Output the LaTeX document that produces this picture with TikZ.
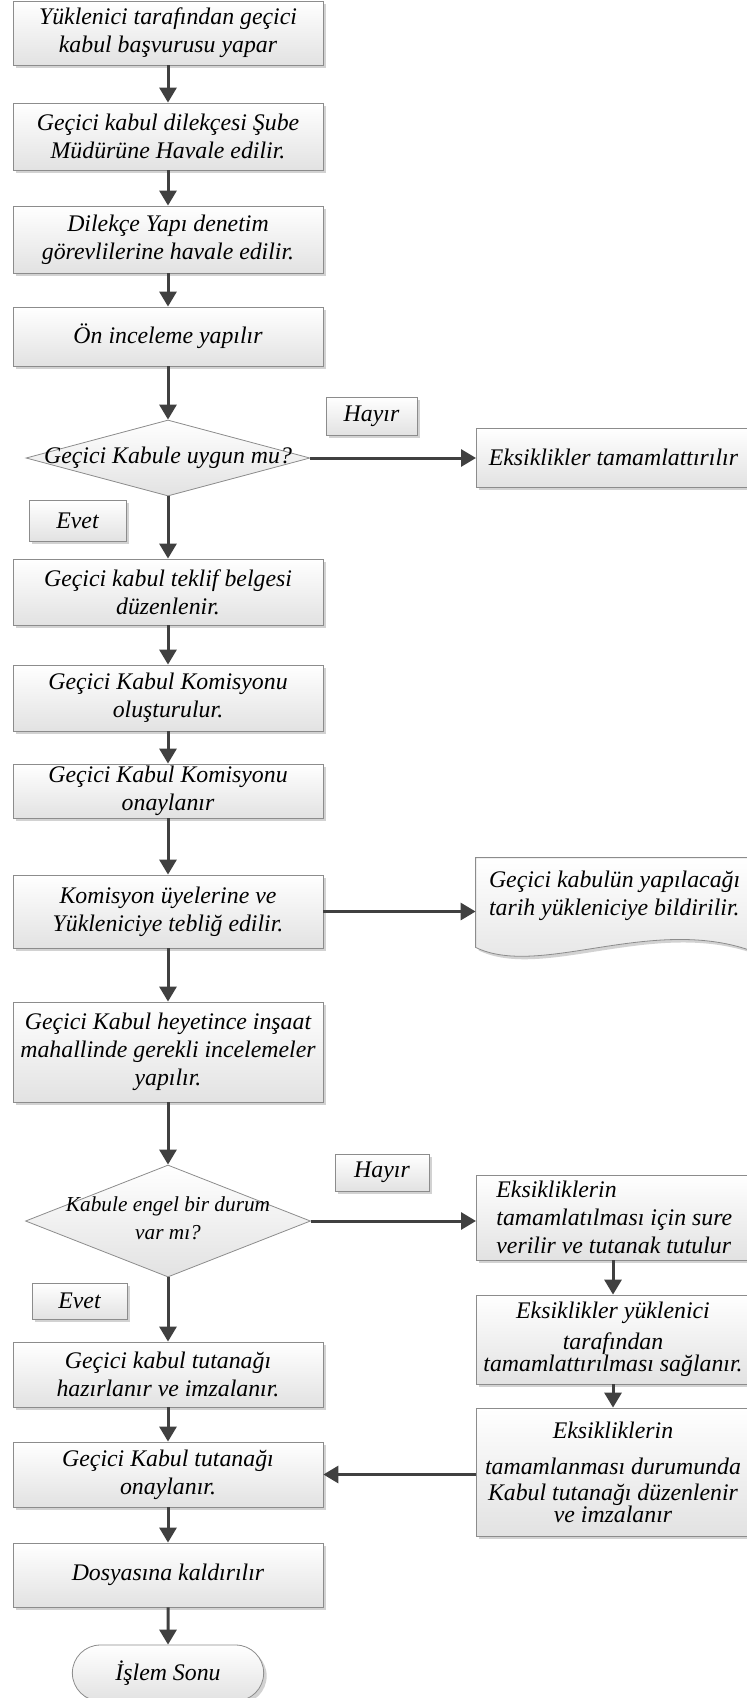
\documentclass[tikz,border=0pt]{standalone}
\usepackage{fontspec}
\setmainfont{Liberation Serif}
\usetikzlibrary{arrows.meta, shapes.geometric, shapes.misc, shadows, calc}
\definecolor{fcLine}{HTML}{404040}
\definecolor{fcEdge}{HTML}{8C8C8C}
\definecolor{fcShade}{HTML}{E2E2E2}
\definecolor{fcShadow}{HTML}{D2D2D2}
\tikzset{
  % thin grey frames, white-to-grey fill and a soft shadow, as in the form
  every picture/.append style = {line width=0.8pt},
  flow/.style      = {-{Triangle[length=15pt, width=17pt]}, fcLine, line width=3pt},
  boxfill/.style   = {draw=fcEdge, top color=white, bottom color=fcShade},
  boxshadow/.style = {drop shadow={shadow xshift=3pt, shadow yshift=-3pt,
                       fill=fcShadow, opacity=1}},
  txt/.style       = {font=\itshape\fontsize{23.8}{28}\selectfont},
  stepbox/.style   = {rectangle, boxfill, boxshadow, txt, align=center,
                      minimum width=310pt, inner sep=2pt},
  sidebox/.style   = {rectangle, boxfill, boxshadow, txt, align=center,
                      minimum width=274pt, inner sep=2pt},
  leftbox/.style   = {rectangle, boxfill, boxshadow, txt, align=left, anchor=west,
                      minimum width=274pt, inner ysep=2pt},
  answer/.style    = {rectangle, boxfill, boxshadow, txt, inner sep=0pt},
  decision/.style  = {diamond, boxfill, inner sep=0pt, minimum width=284pt},
  terminal/.style  = {rounded rectangle, boxfill, boxshadow, txt,
                      minimum width=198pt, minimum height=56pt},
}

\begin{document}
\begin{tikzpicture}[x=1pt, y=-1pt,
    dtext/.style={txt, align=center}]
  \useasboundingbox (0,0) rectangle (747,1698);
  % main column
  \node[stepbox, minimum height=64pt] (b1) at (168,33)
    {Yüklenici tarafından geçici\\kabul başvurusu yapar};
  \node[stepbox, minimum height=67pt] (b2) at (168,136.5)
    {Geçici kabul dilekçesi Şube\\Müdürüne Havale edilir.};
  \node[stepbox, minimum height=67pt] (b3) at (168,239.5)
    {Dilekçe Yapı denetim\\görevlilerine havale edilir.};
  \node[stepbox, minimum height=59pt] (b4) at (168,336.5) {Ön inceleme yapılır};
  \node[decision, minimum height=76pt] (d1) at (168,458) {};
  \node[dtext] (d1t) at (d1) {Geçici Kabule uygun mu?};
  \node[stepbox, minimum height=66pt] (b5) at (168,592)
    {Geçici kabul teklif belgesi\\düzenlenir.};
  \node[stepbox, minimum height=66pt] (b6) at (168,698)
    {Geçici Kabul Komisyonu\\oluşturulur.};
  \node[stepbox, minimum height=54pt] (b7) at (168,791)
    {Geçici Kabul Komisyonu\\onaylanır};
  \node[stepbox, minimum height=73pt] (b8) at (168,911.5)
    {Komisyon üyelerine ve\\Yükleniciye tebliğ edilir.};
  \node[stepbox, minimum height=100pt] (b9) at (168,1052)
    {Geçici Kabul heyetince inşaat\\mahallinde gerekli incelemeler\\yapılır.};
  \node[decision, minimum height=112pt, minimum width=285pt] (d2) at (168,1221) {};
  \node[dtext, font=\itshape\fontsize{21.3}{28}\selectfont] (d2t) at (168,1218)
    {Kabule engel bir durum\\var mı?};
  \node[stepbox, minimum height=65pt] (b10) at (168,1374.5)
    {Geçici kabul tutanağı\\hazırlanır ve imzalanır.};
  \node[stepbox, minimum height=65pt] (b11) at (168,1474.5)
    {Geçici Kabul tutanağı\\onaylanır.};
  \node[stepbox, minimum height=64pt] (b12) at (168,1575) {Dosyasına kaldırılır};
  \node[terminal] (term) at (168,1673) {İşlem Sonu};

  % answers
  \node[answer, minimum width=91pt, minimum height=38pt] (no1) at (371.5,416) {Hayır};
  \node[answer, minimum width=97pt, minimum height=41pt] (yes1) at (77.5,520.5) {Evet};
  \node[answer, minimum width=94pt, minimum height=37pt] (no2) at (382,1172.5) {Hayır};
  \node[answer, minimum width=95pt, minimum height=36pt] (yes2) at (79.5,1301) {Evet};

  % right column
  \node[leftbox, inner xsep=11pt, minimum height=59pt] (r0) at (476,457.5)
    {Eksiklikler tamamlattırılır};
  \node[minimum width=274pt, minimum height=76pt] (doc) at (613,896) {};
  \path[boxfill, boxshadow] (doc.north west) -- (doc.north east) -- ($(doc.south east)+(0,16)$)
     .. controls ($(doc.south east)+(-100,-19)$) and ($(doc.south west)+(64,44)$)
     .. ($(doc.south west)+(0,13)$) -- cycle;
  \node[txt, align=left, anchor=west, inner sep=0pt] (doct) at ($(doc.west)+(13,0)$)
    {Geçici kabulün yapılacağı\\tarih yükleniciye bildirilir.};
  \node[leftbox, inner xsep=20pt, minimum height=85pt] (r1) at (476,1217.5)
    {Eksikliklerin\\tamamlatılması için sure\\verilir ve tutanak tutulur};
  \node[sidebox, minimum height=89pt] (r2) at (613,1339.5)
    {Eksiklikler yüklenici\\[3pt]tarafından\\[-6pt]tamamlattırılması sağlanır.};
  \node[sidebox, minimum height=128pt] (r3) at (613,1472)
    {Eksikliklerin\\[8pt]tamamlanması durumunda\\[-2pt]Kabul tutanağı düzenlenir\\[-6pt]ve imzalanır};

  % connectors
  \foreach \a/\b in {b1/b2, b2/b3, b3/b4, b4/d1, d1/b5, b5/b6, b6/b7, b7/b8,
                     b8/b9, b9/d2, d2/b10, b10/b11, b11/b12, b12/term}
    \draw[flow] (\a) -- (\b);
  \draw[flow] (r1.south -| r2) -- (r2);
  \draw[flow] (r2) -- (r3);
  \draw[flow] (d1.east) -- (d1.east -| r0.west);
  \draw[flow] (b8.east) -- (b8.east -| doc.west);
  \draw[flow] (d2.east) -- (d2.east -| r1.west);
  \draw[flow] (r3.west |- b11.east) -- (b11.east);
\end{tikzpicture}
\end{document}
